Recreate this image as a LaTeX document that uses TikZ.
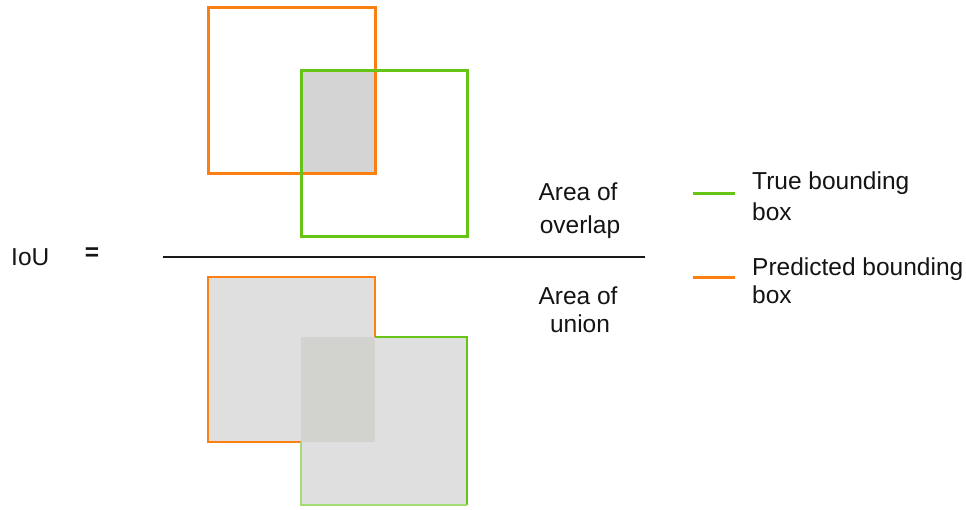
\documentclass[tikz,border=0pt]{standalone}
\usepackage{fontspec}
\setmainfont{Liberation Sans}
\definecolor{predorange}{RGB}{250,128,20}
\definecolor{truegreen}{RGB}{102,196,20}
\definecolor{ovgray}{RGB}{212,212,212}
\definecolor{ungray}{RGB}{224,223,223}
\definecolor{ungray2}{RGB}{210,210,206}
\tikzset{
  txt/.style={inner sep=0pt, font=\fontsize{24.5}{28}\selectfont, text=black!92},
  predline/.style={draw=predorange, line width=3pt},
  trueline/.style={draw=truegreen, line width=3pt},
}
\begin{document}
\begin{tikzpicture}[x=1pt,y=-1pt]
\useasboundingbox[fill=white] (0,0) rectangle (966,509);
% top: overlap
\fill[ovgray] (301,70) rectangle (375,173);
\draw[predline] (208,7) rectangle (375,173);
\draw[trueline] (301,70) rectangle (467,236);
% bottom: union
\fill[ungray] (208,277) rectangle (375,442);
\fill[ungray] (301,337) rectangle (467,505);
\fill[ungray2] (301,337) rectangle (375,442);
\draw[predline, line width=2.8pt] (301,442) -- (208,442) -- (208,277) -- (375,277) -- (375,337);
\draw[trueline, line width=2.8pt] (375,337) -- (467,337) -- (467,505);
\draw[draw=truegreen!60, line width=2pt] (467,505) -- (301,505) -- (301,442);
% fraction
\coordinate (fl) at (163,257);
\coordinate (fr) at (645,257);
\draw[line width=1.4pt, black!90] (fl) -- (fr);
\node[txt, anchor=base west] (iou) at (11,265) {IoU};
\node[txt, font=\fontsize{24.5}{28}\selectfont\bfseries] (eq) at (92,254) {=};
\node[txt, anchor=base] (ao1) at (578,200) {Area of};
\node[txt, anchor=base] (ao2) at (580,233) {overlap};
\node[txt, anchor=base] (au1) at (578,304) {Area of};
\node[txt, anchor=base] (au2) at (580,332) {union};
% legend
\coordinate (g1) at (693,193);
\coordinate (g2) at (735,193);
\coordinate (o1) at (693,277);
\coordinate (o2) at (735,277);
\draw[trueline] (g1) -- (g2);
\draw[predline] (o1) -- (o2);
\node[txt, anchor=base west] (t1) at (752,189) {True bounding};
\node[txt, anchor=base west] (t2) at (752,220) {box};
\node[txt, anchor=base west] (p1) at (752,275) {Predicted bounding};
\node[txt, anchor=base west] (p2) at (752,303) {box};
\end{tikzpicture}
\end{document}
